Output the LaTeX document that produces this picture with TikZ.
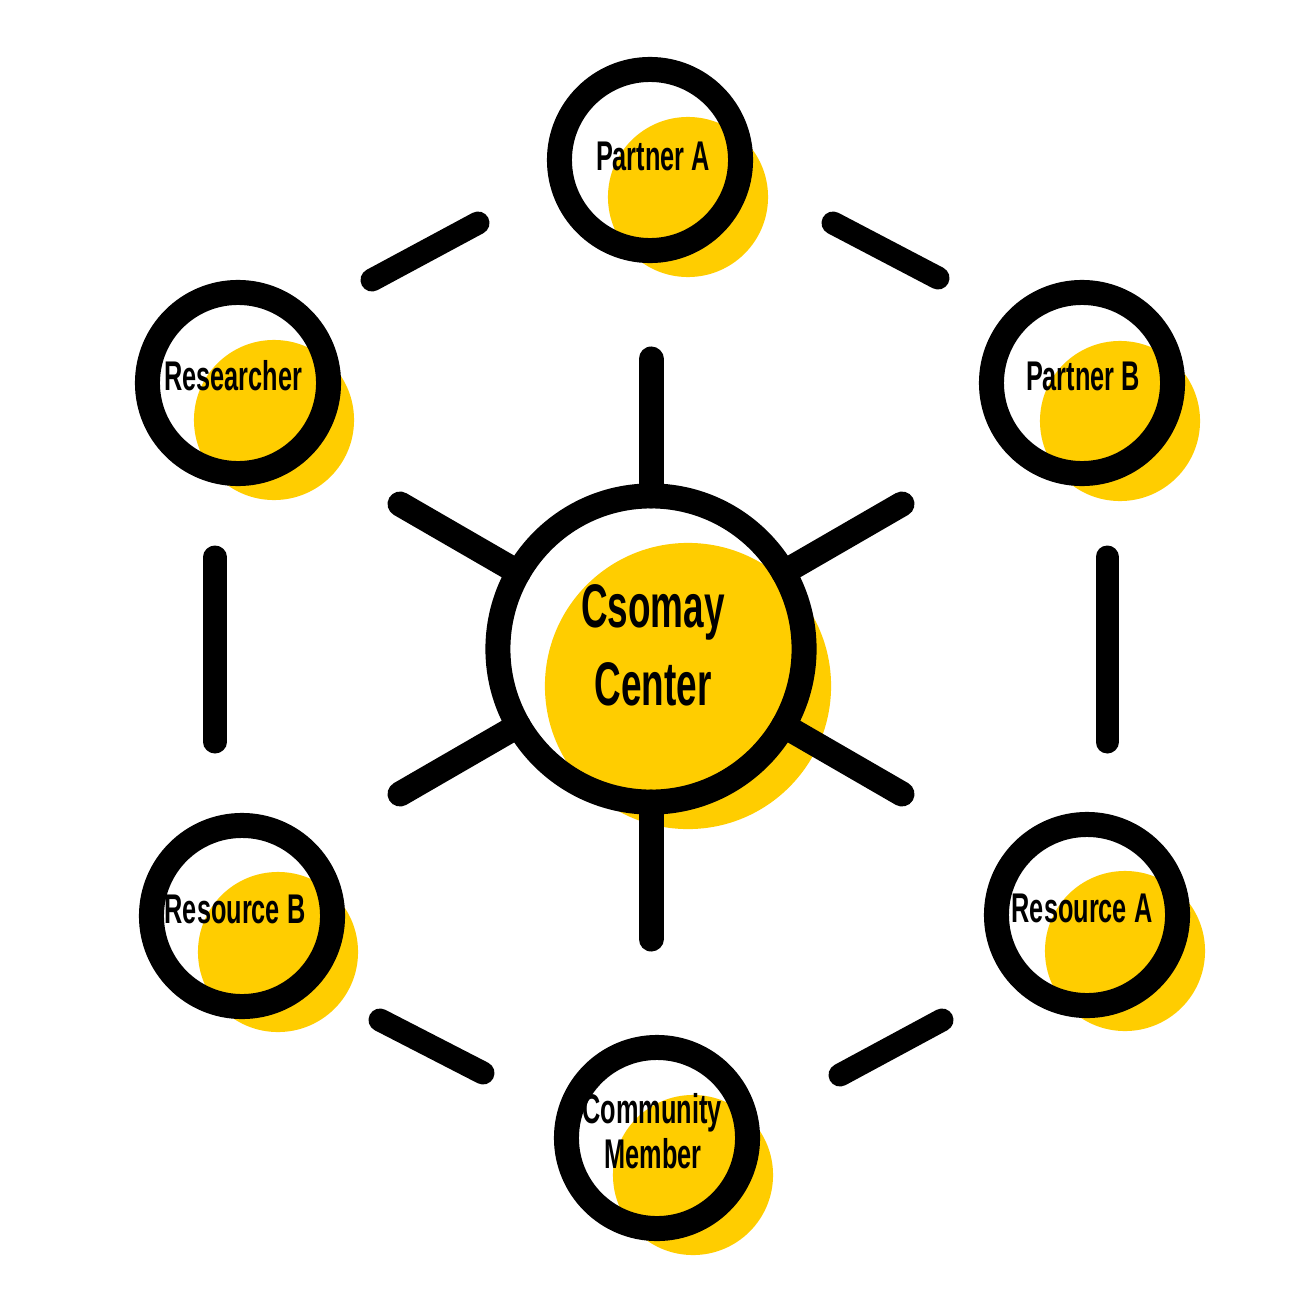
\documentclass[tikz,border=0pt]{standalone}
\usepackage{fontspec}
\usepackage{graphicx}
\setmainfont{Liberation Sans}
\definecolor{csyellow}{HTML}{FFCD00}
\newcommand{\satlbl}[1]{\scalebox{0.61}[1]{\fontsize{11.8}{13}\selectfont\bfseries #1}}
\newcommand{\cenlbl}[1]{\scalebox{0.6}[1]{\fontsize{17.5}{20}\selectfont\bfseries #1}}
\begin{document}
\begin{tikzpicture}[x=0.01cm,y=-0.01cm,
  ring/.style={circle,draw=black,line width=25*0.2845pt,minimum size=1.81cm,inner sep=0pt,outer sep=0pt},
  bigring/.style={circle,draw=black,line width=25*0.2845pt,minimum size=3.06cm,inner sep=0pt,outer sep=0pt},
  spoke/.style={draw=black,line width=25*0.2845pt,line cap=round},
  dashseg/.style={draw=black,line width=23*0.2845pt,line cap=round},
  txt/.style={anchor=base,inner sep=0pt,outer sep=0pt,text=black}]
\fill[white] (0,0) rectangle (1312,1312);
\useasboundingbox (0,0) rectangle (1312,1312);
% yellow disks
\fill[csyellow] (688,686) circle[radius=1.43cm];
\fill[csyellow] (688,197) circle[radius=0.80cm];
\fill[csyellow] (274,420) circle[radius=0.80cm];
\fill[csyellow] (1120,421) circle[radius=0.80cm];
\fill[csyellow] (1125,951) circle[radius=0.80cm];
\fill[csyellow] (278,952) circle[radius=0.80cm];
\fill[csyellow] (693,1175) circle[radius=0.80cm];
% rings
\node[bigring] (cen) at (651,649) {};
\node[ring] (pa) at (650,160) {};
\node[ring] (re) at (238,383) {};
\node[ring] (pb) at (1082,383) {};
\node[ring] (ra) at (1087,915) {};
\node[ring] (rb) at (242,916) {};
\node[ring] (cm) at (657,1138) {};
% spoke ends
\coordinate (s90) at (651,359);
\coordinate (s270) at (651,939);
\coordinate (s150) at (400,504);
\coordinate (s30) at (902,504);
\coordinate (s210) at (400,794);
\coordinate (s330) at (902,794);
\draw[spoke] (cen.90) -- (s90);
\draw[spoke] (cen.270) -- (s270);
\draw[spoke] (cen.150) -- (s150);
\draw[spoke] (cen.30) -- (s30);
\draw[spoke] (cen.210) -- (s210);
\draw[spoke] (cen.330) -- (s330);
% hexagon dashes
\coordinate (d1a) at (372,280); \coordinate (d1b) at (478,223);
\coordinate (d2a) at (833,223); \coordinate (d2b) at (938,278);
\coordinate (d3a) at (215,557); \coordinate (d3b) at (215,742);
\coordinate (d4a) at (1107,557); \coordinate (d4b) at (1107,742);
\coordinate (d5a) at (380,1020); \coordinate (d5b) at (483,1073);
\coordinate (d6a) at (840,1075); \coordinate (d6b) at (942,1020);
\draw[dashseg] (d1a) -- (d1b);
\draw[dashseg] (d2a) -- (d2b);
\draw[dashseg] (d3a) -- (d3b);
\draw[dashseg] (d4a) -- (d4b);
\draw[dashseg] (d5a) -- (d5b);
\draw[dashseg] (d6a) -- (d6b);
% labels
\node[txt] (tpa) at (653,170) {\satlbl{Partner A}};
\node[txt] (tre) at (233,390) {\satlbl{Researcher}};
\node[txt] (tpb) at (1083,390) {\satlbl{Partner B}};
\node[txt] (tra) at (1082,922) {\satlbl{Resource A}};
\node[txt] (trb) at (235,923) {\satlbl{Resource B}};
\node[txt] (tcm1) at (652,1123) {\satlbl{Community}};
\node[txt] (tcm2) at (653,1168) {\satlbl{Member}};
\node[txt] (tc1) at (653,627) {\cenlbl{Csomay}};
\node[txt] (tc2) at (653,705) {\cenlbl{Center}};
\end{tikzpicture}
\end{document}
